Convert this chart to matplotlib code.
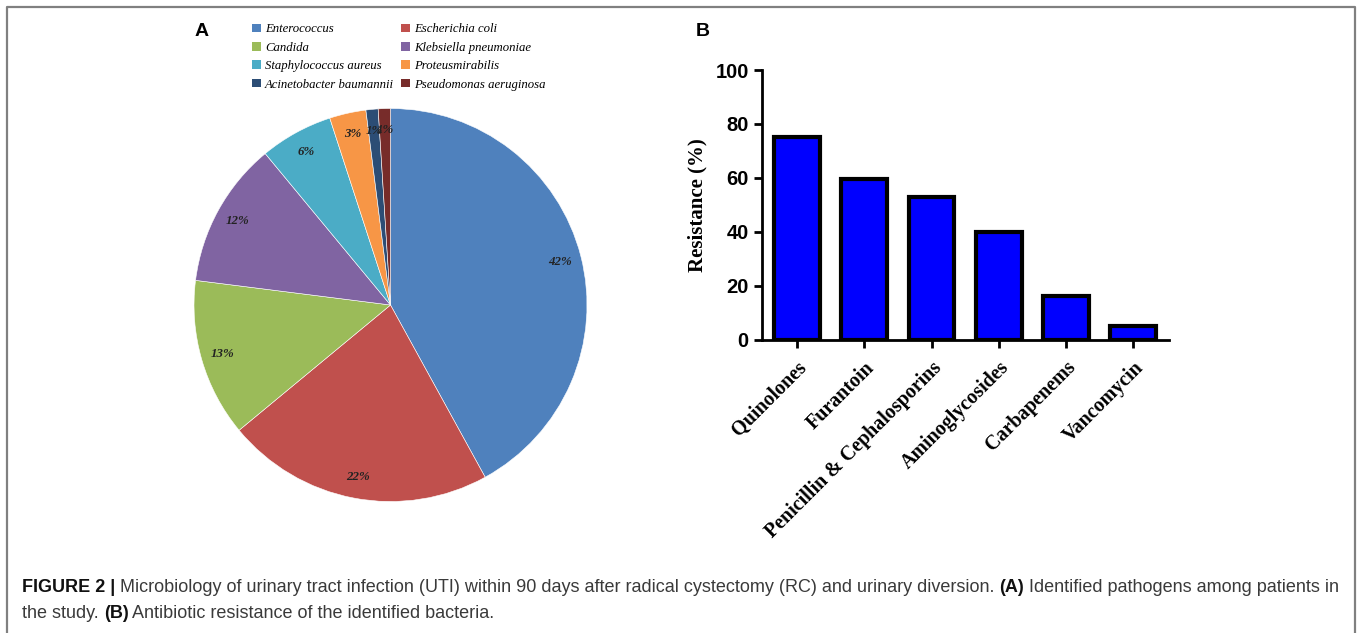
import matplotlib
matplotlib.use("Agg")
import matplotlib.pyplot as plt
from matplotlib.patches import Patch

# Panel A: pathogen share (%)
pathogens = ["Enterococcus", "Escherichia coli", "Candida", "Klebsiella pneumoniae",
             "Staphylococcus aureus", "Proteusmirabilis", "Acinetobacter baumannii",
             "Pseudomonas aeruginosa"]
shares = [42, 22, 13, 12, 6, 3, 1, 1]
pie_colors = ["#4F81BD", "#C0504D", "#9BBB59", "#8064A2",
              "#4BACC6", "#F79646", "#2C4D75", "#772C2A"]

# Panel B: antibiotic resistance (%)
antibiotics = ["Quinolones", "Furantoin", "Penicillin & Cephalosporins",
               "Aminoglycosides", "Carbapenems", "Vancomycin"]
resistance = [75, 59.5, 53, 40, 16, 5]

W, H = 1360, 633
fig = plt.figure(figsize=(W / 100, H / 100), dpi=100)

serif = "Liberation Serif"
sans = "Liberation Sans"

# outer frame (open at the bottom)
fig.add_artist(plt.Line2D([7 / W, 7 / W, 1355 / W, 1355 / W],
                          [0, 1 - 6.5 / H, 1 - 6.5 / H, 0],
                          transform=fig.transFigure, color="#808080", lw=1.6))

# ---- A: pie ----
cx, cy, r = 390.5, 305, 196.5
axA = fig.add_axes([(cx - r) / W, 1 - (cy + r) / H, 2 * r / W, 2 * r / H])
wedges, _, autotexts = axA.pie(shares, colors=pie_colors, startangle=90, counterclock=False,
                               autopct="%1.0f%%", pctdistance=0.89,
                               wedgeprops=dict(edgecolor="white", linewidth=0.4),
                               textprops=dict(family=serif, style="italic", weight="bold",
                                              fontsize=9.3, color="#222222"))
axA.set_xlim(-1, 1)
axA.set_ylim(-1, 1)

handles = [Patch(facecolor=c, edgecolor="none") for c in pie_colors]
# column-major ordering so legend fills row by row
order = [0, 2, 4, 6, 1, 3, 5, 7]
leg = fig.legend([handles[i] for i in order], [pathogens[i] for i in order],
                 ncol=2, loc="upper left", bbox_to_anchor=(246 / W, 1 - 17 / H),
                 frameon=False, prop=dict(family=serif, style="italic", size=9.2),
                 handlelength=0.65, handleheight=0.65, handletextpad=0.35,
                 labelspacing=0.5, columnspacing=0.55, borderpad=0)

fig.text(202 / W, 1 - 32 / H, "A", family=sans, weight="bold", fontsize=14,
         ha="center", va="center")
fig.text(703 / W, 1 - 32 / H, "B", family=sans, weight="bold", fontsize=14,
         ha="center", va="center")

# ---- B: bars ----
axB = fig.add_axes([762 / W, 1 - 339.5 / H, (1169 - 762) / W, (339.5 - 70) / H])
x = range(len(antibiotics))
axB.bar(x, resistance, width=0.68, color="#0000FF", edgecolor="black", linewidth=3)
axB.set_xlim(-0.52, 5.53)
axB.set_ylim(0, 100)
axB.set_yticks([0, 20, 40, 60, 80, 100])
for s in ["top", "right"]:
    axB.spines[s].set_visible(False)
for s in ["left", "bottom"]:
    axB.spines[s].set_linewidth(2)
axB.tick_params(width=2, length=6, direction="out")
axB.tick_params(axis="x", pad=7)
axB.set_xticks(list(x))
axB.set_xticklabels(antibiotics, rotation=45, ha="right", rotation_mode="anchor",
                    family=serif, weight="bold", fontsize=14.4)
for lab in axB.get_yticklabels():
    lab.set_family(sans)
    lab.set_weight("bold")
    lab.set_fontsize(14.5)
axB.set_ylabel("Resistance (%)", family=serif, weight="bold", fontsize=15, labelpad=6)

# ---- caption with mixed weights ----
renderer = fig.canvas.get_renderer()


def caption_line(runs, x0, y0, size=12.95):
    xpos = x0
    for txt, bold in runs:
        t = fig.text(xpos, y0, txt, family=sans, fontsize=size,
                     weight="bold" if bold else "normal",
                     color="#111111" if bold else "#3a3a3a", va="baseline")
        bb = t.get_window_extent(renderer)
        xpos += bb.width / W


caption_line([("FIGURE 2 | ", True),
              ("Microbiology of urinary tract infection (UTI) within 90 days after radical "
               "cystectomy (RC) and urinary diversion. ", False),
              ("(A)", True),
              (" Identified pathogens among patients in", False)],
             22 / W, 1 - 592 / H)
caption_line([("the study. ", False), ("(B)", True),
              (" Antibiotic resistance of the identified bacteria.", False)],
             22 / W, 1 - 618 / H)

fig.savefig("out.png", dpi=100)
